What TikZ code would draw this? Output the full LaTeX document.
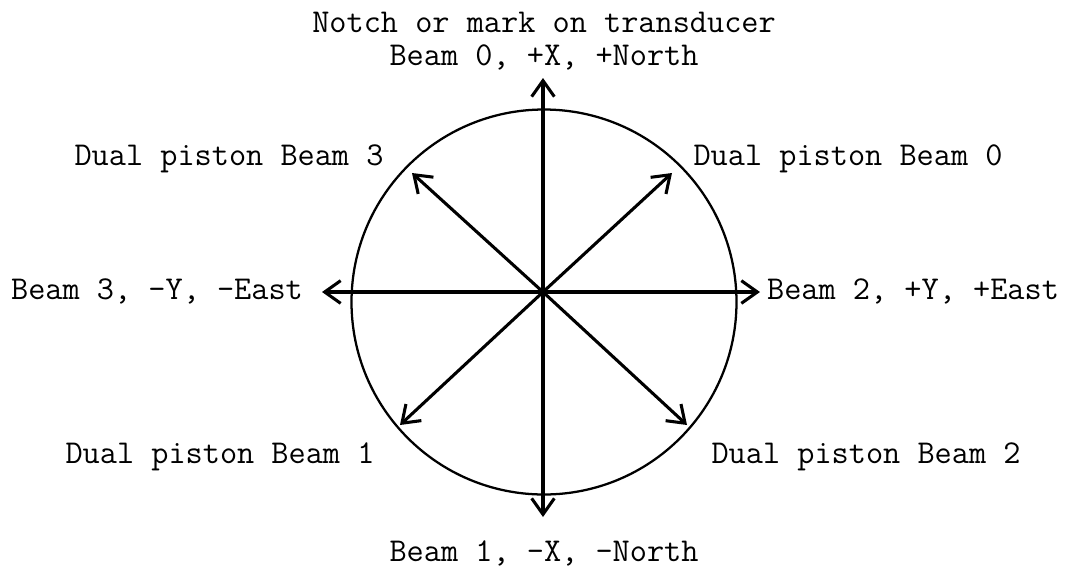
\documentclass[tikz,border=0pt]{standalone}
\usepackage{fontspec}
\usepackage{tikz}
\usetikzlibrary{arrows.meta}

\begin{document}
\begin{tikzpicture}[x=0.75pt, y=-0.75pt, font=\ttfamily\fontsize{25}{30}\selectfont,
  beam/.style={line width=2.3pt, -{Straight Barb[length=12pt, width=17pt]}},
  lbl/.style={anchor=base, inner sep=0pt}]
  \useasboundingbox (0,0) rectangle (1068,569);
  % transducer face
  \draw[line width=1.7pt] (544,302) circle (192.5);
  % beam directions, all from the centre
  \coordinate (o) at (543,292);
  \coordinate (b0) at (543,78);
  \coordinate (b1) at (543,517);
  \coordinate (b2) at (760,292);
  \coordinate (b3) at (322,292);
  \coordinate (d0) at (672,173);
  \coordinate (d1) at (400,425);
  \coordinate (d2) at (687,425);
  \coordinate (d3) at (412,173);
  \foreach \t in {b0,b1,b2,b3,d0,d1,d2,d3}
    \draw[beam] (o) -- (\t);
  % labels
  \node[lbl] (notch) at (544,32) {Notch or mark on transducer};
  \node[lbl] (lb0) at (544,65) {Beam 0, +X, +North};
  \node[lbl] (lb1) at (544,561) {Beam 1, -X, –North};
  \node[lbl] (lb2) at (913,299) {Beam 2, +Y, +East};
  \node[lbl] (lb3) at (157,299) {Beam 3, -Y, -East};
  \node[lbl] (ld0) at (848,165) {Dual piston Beam 0};
  \node[lbl] (ld1) at (220,463) {Dual piston Beam 1};
  \node[lbl] (ld2) at (866,463) {Dual piston Beam 2};
  \node[lbl] (ld3) at (229,165) {Dual piston Beam 3};
\end{tikzpicture}
\end{document}
